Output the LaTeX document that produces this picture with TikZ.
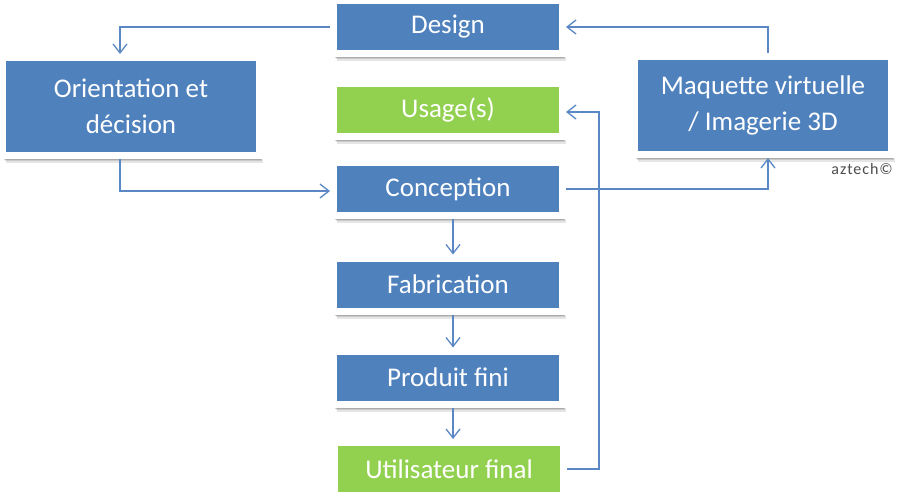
\documentclass[tikz,border=0pt]{standalone}
\usepackage{fontspec}
\setmainfont{Carlito}
\usepackage{tikz}
\usetikzlibrary{arrows.meta,shadows}
\definecolor{boxblue}{HTML}{4F81BD}
\definecolor{boxgreen}{HTML}{92D050}
\definecolor{linkblue}{HTML}{5B87C4}

\begin{document}
\begin{tikzpicture}[x=1pt,y=1pt,
    card/.style={draw=white,line width=7pt,inner sep=0pt,align=center,text=white,
      font=\fontsize{27}{36}\selectfont,
      drop shadow={shadow xshift=3pt,shadow yshift=-7.5pt,opacity=.1,fill=black},
      drop shadow={shadow xshift=2pt,shadow yshift=-6pt,opacity=.12,fill=black},
      drop shadow={shadow xshift=1pt,shadow yshift=-4.5pt,opacity=.15,fill=black}},
    bluebox/.style={card,fill=boxblue,minimum width=229pt,minimum height=53pt},
    greenbox/.style={card,fill=boxgreen,minimum width=229pt,minimum height=53pt},
    bigbox/.style={card,fill=boxblue,minimum width=257pt,minimum height=98pt},
    flow/.style={draw=linkblue,line width=1.3pt,-{Straight Barb[length=9pt,width=14pt]}}]
  \useasboundingbox (0,0) rectangle (902,496);
  % ---------------- boxes
  \node[bluebox] (design) at (448,469) {Design};
  \node[greenbox] (usage) at (448,386) {Usage(s)};
  \node[bigbox] (orient) at (131,389.5) {Orientation et\\décision};
  \node[bigbox] (maquette) at (763,390.5) {Maquette virtuelle\\/ Imagerie 3D};
  \node[bluebox] (concep) at (448,307) {Conception};
  \node[bluebox] (fabric) at (448,211.5) {Fabrication};
  \node[bluebox] (produit) at (448,118.5) {Produit fini};
  \node[greenbox] (utilis) at (449,27) {Utilisateur final};
  \node[text=black!70,font=\fontsize{16}{18}\selectfont\addfontfeatures{LetterSpace=6},
    anchor=north east,inner sep=0pt] (credit) at (893,333) {aztech©};
  % ---------------- connectors
  \draw[flow] (design.west) -| ([xshift=-11pt]orient.north);
  \draw[flow] ([xshift=5pt]maquette.north) |- (design.east);
  \draw[flow] ([xshift=-11pt]orient.south) |- ([yshift=-2pt]concep.west);
  \draw[flow] (concep.east) -| ([xshift=5pt]maquette.south);
  \draw[flow] ([xshift=5pt]concep.south) -- ([xshift=5pt]fabric.north);
  \draw[flow] ([xshift=5pt]fabric.south) -- ([xshift=5pt]produit.north);
  \draw[flow] ([xshift=5pt]produit.south) -- ([xshift=4pt]utilis.north);
  \draw[flow] (utilis.east) -- ++(32,0) |- ([yshift=-2pt]usage.east);
\end{tikzpicture}
\end{document}
